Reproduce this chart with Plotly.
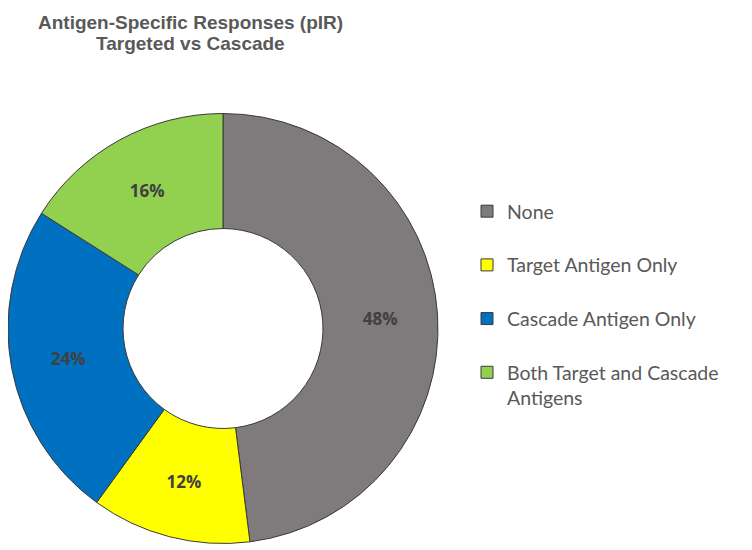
import plotly.graph_objects as go

labels = ["None", "Target Antigen Only", "Cascade Antigen Only",
          "Both Target and Cascade<br>Antigens"]
values = [48, 12, 24, 16]
colors = ["#7f7a7b", "#ffff00", "#0070c0", "#92d050"]
title_lines = ["Antigen-Specific Responses (pIR)", "Targeted vs Cascade"]

# page body adds an 8px margin, so the figure is drawn 8px smaller
W, H = 744, 542

# pad the single-line labels so legend rows get the same spacing
legend_labels = [l if "<br>" in l else l + "<br>&nbsp;" for l in labels]

fig = go.Figure()
fig.add_trace(go.Pie(
    labels=legend_labels, values=values, hole=0.465, sort=False,
    direction="clockwise", rotation=0,
    marker=dict(colors=colors, line=dict(color="#3a3a3a", width=1)),
    textposition="inside", insidetextorientation="horizontal",
    texttemplate="<b>%{percent:.0%}</b>",
    textfont=dict(family="Open Sans", size=17, color="#404040"),
    domain=dict(x=[0, 430 / W], y=[5 / H, 438 / H]),
))

for i, line in enumerate(title_lines):
    fig.add_annotation(
        text="<b>" + line + "</b>", xref="paper", yref="paper",
        x=182 / W, y=1 - (2 + 20.5 * i) / H, xanchor="center", yanchor="top",
        showarrow=False,
        font=dict(family="Liberation Sans", size=19, color="#595959"))

fig.update_layout(
    width=W, height=H,
    margin=dict(l=0, r=0, t=0, b=0),
    paper_bgcolor="white", plot_bgcolor="white",
    legend=dict(x=459 / W, xanchor="left", y=1 - 184 / H, yanchor="top",
                valign="top",
                font=dict(family="Lato", size=19.5, color="#595959"),
                itemwidth=30),
)

fig.write_html("out.html")
